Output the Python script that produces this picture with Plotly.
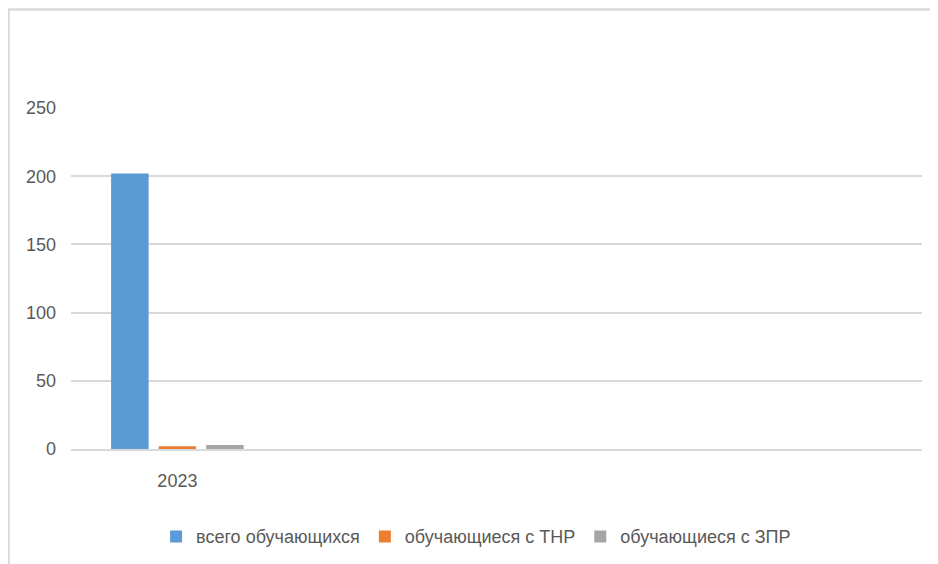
import plotly.graph_objects as go

categories = ["2023"]
series_names = ["всего обучающихся", "обучающиеся с ТНР", "обучающиеся с ЗПР"]
total_students = [202]
thr_students = [2]
zpr_students = [3]
y_ticks = [0, 50, 100, 150, 200, 250]

colors = ["#5B9BD5", "#ED7D31", "#A5A5A5"]
FONT = "Liberation Sans, Arial, sans-serif"
TXT = "#595959"

fig = go.Figure()
for name, vals, col in zip(series_names, [total_students, thr_students, zpr_students], colors):
    fig.add_trace(go.Bar(x=categories, y=vals, name=name, marker=dict(color=col, line=dict(width=0))))

# page body has an 8px margin, so the figure is 930x556 placed at (8,8)
fig.update_layout(
    width=930, height=556,
    margin=dict(l=63, r=16, t=100, b=115, autoexpand=False),
    paper_bgcolor="white", plot_bgcolor="white",
    barmode="group", bargap=0.33, bargroupgap=0.21,
    font=dict(family=FONT, color=TXT, size=18),
    showlegend=True,
    legend=dict(orientation="h", xref="paper", x=0.476, xanchor="center",
                yref="container", y=0.049, yanchor="middle",
                font=dict(family=FONT, size=18, color=TXT), itemwidth=30,
                traceorder="normal"),
    xaxis=dict(type="category", range=[-0.5, 3.5], showgrid=False, zeroline=False,
               showline=True, linecolor="#D9D9D9", linewidth=1.5, ticks="",
               ticklabelstandoff=15, tickfont=dict(family=FONT, size=18, color=TXT)),
    yaxis=dict(range=[0, 250], tickvals=y_ticks, showgrid=True, gridcolor="#D9D9D9",
               gridwidth=1.5, zeroline=False, showline=False, ticks="",
               ticklabelstandoff=14, tickfont=dict(family=FONT, size=18, color=TXT)),
    shapes=[dict(type="path", xref="paper", yref="paper",
                 path="M -0.0734,-0.5 L -0.0734,1.2889 L 1.2,1.2889",
                 line=dict(color="#D9D9D9", width=2.5))],
)

fig.write_html("out.html")
